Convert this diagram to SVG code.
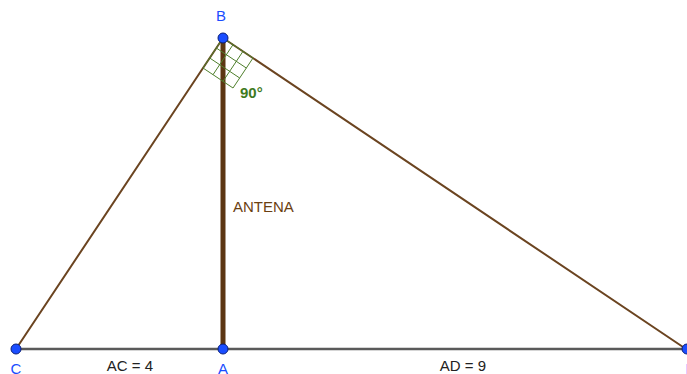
<svg xmlns="http://www.w3.org/2000/svg" width="687" height="374" viewBox="0 0 687 374">
<style>
.pt{fill:#1a4dff;stroke:#0a1f7a;stroke-width:1}
.plbl{font-family:"Liberation Sans",Arial,sans-serif;font-size:15px;fill:#1a4dff;text-anchor:middle}
.seg{stroke:#6b4420;stroke-width:2;fill:none;stroke-linecap:round}
.lbl{font-family:"Liberation Sans",Arial,sans-serif;font-size:15px;fill:#222;text-anchor:middle}
.grid{stroke:#4f7f2c;stroke-width:1;fill:none}
</style>
<rect width="687" height="374" fill="#fff"/>
<g id="connectors">
<line x1="16" y1="349" x2="686" y2="349" stroke="#5a5a5a" stroke-width="2.5"/>
<line class="seg" x1="223" y1="38" x2="16" y2="349"/>
<line class="seg" x1="223" y1="38" x2="686" y2="349"/>
<line x1="223" y1="38" x2="223" y2="349" stroke="#5c3613" stroke-width="5"/>
</g>
<g id="angle">
<polygon points="223,38 203,68 233,88 253,58" fill="#4f7f2c" fill-opacity="0.08" class="grid"/>
<line class="grid" x1="216.3" y1="48" x2="246.3" y2="68"/>
<line class="grid" x1="209.7" y1="58" x2="239.7" y2="78"/>
<line class="grid" x1="233" y1="44.7" x2="213" y2="74.7"/>
<line class="grid" x1="243" y1="51.3" x2="223" y2="81.3"/>
<text x="240" y="98" font-family="Liberation Sans,Arial,sans-serif" font-size="15" font-weight="bold" fill="#3f7a1e">90°</text>
</g>
<g id="antenna-label">
<text x="233" y="212" font-family="Liberation Sans,Arial,sans-serif" font-size="15" fill="#6b3f12">ANTENA</text>
</g>
<g id="label-AC"><text class="lbl" x="130" y="371">AC = 4</text></g>
<g id="label-AD"><text class="lbl" x="463" y="371">AD = 9</text></g>
<g id="B"><circle class="pt" cx="223" cy="38" r="5"/><text class="plbl" x="221" y="21">B</text></g>
<g id="C"><circle class="pt" cx="16" cy="349" r="5"/><text class="plbl" x="16" y="374">C</text></g>
<g id="A"><circle class="pt" cx="223" cy="349" r="5"/><text class="plbl" x="223" y="374">A</text></g>
<g id="D"><circle class="pt" cx="687" cy="349" r="5"/><text class="plbl" x="691" y="374">D</text></g>
</svg>
